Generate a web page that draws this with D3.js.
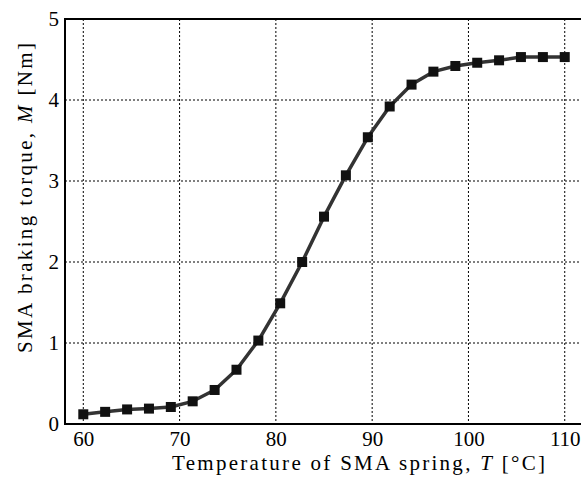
<!DOCTYPE html>
<html>
<head>
<meta charset="utf-8">
<script src="https://cdn.jsdelivr.net/npm/d3@7"></script>
<style>
  body { margin: 0; background: #fff; }
</style>
</head>
<body>
<div class="chart"></div>
<script>
// Data
var temps = [60, 62.27, 64.55, 66.82, 69.09, 71.36, 73.64, 75.91, 78.18, 80.45, 82.73, 85.0,
  87.27, 89.55, 91.82, 94.09, 96.36, 98.64, 100.91, 103.18, 105.45, 107.73, 110];
var torque = [0.12, 0.15, 0.18, 0.19, 0.21, 0.28, 0.42, 0.67, 1.03, 1.49, 2.0, 2.56,
  3.07, 3.54, 3.92, 4.19, 4.35, 4.42, 4.46, 4.49, 4.53, 4.53, 4.53];
var xTicks = [60, 70, 80, 90, 100, 110];
var yTicks = [0, 1, 2, 3, 4, 5];

var serif = "'Liberation Serif', 'DejaVu Serif', serif";

var svgWidth = 581;
var svgHeight = 484;
var margin = { top: 19, right: -3, bottom: 60, left: 65 };
var width = svgWidth - margin.left - margin.right;
var height = svgHeight - margin.top - margin.bottom;

var svg = d3.select(".chart")
  .append("svg")
  .attr("width", svgWidth)
  .attr("height", svgHeight);

var chart = svg.append("g")
  .attr("transform", "translate(" + margin.left + "," + margin.top + ")");

var xScale = d3.scaleLinear().domain([58.1, 112]).range([0, width]);
var yScale = d3.scaleLinear().domain([0, 5]).range([height, 0]);

// grid
chart.selectAll(".vgrid")
  .data(xTicks)
  .enter()
  .append("line")
  .attr("x1", function(d) { return xScale(d); })
  .attr("x2", function(d) { return xScale(d); })
  .attr("y1", 0)
  .attr("y2", height)
  .attr("stroke", "#000")
  .attr("stroke-width", 1)
  .attr("stroke-dasharray", "2,2");

chart.selectAll(".hgrid")
  .data(yTicks.filter(function(d) { return d > 0 && d < 5; }))
  .enter()
  .append("line")
  .attr("x1", 0)
  .attr("x2", width)
  .attr("y1", function(d) { return yScale(d); })
  .attr("y2", function(d) { return yScale(d); })
  .attr("stroke", "#000")
  .attr("stroke-width", 1)
  .attr("stroke-dasharray", "2,2");

// axes (labels only, no tick marks)
var bottomAxis = d3.axisBottom(xScale).tickValues(xTicks).tickSize(0).tickPadding(7)
  .tickFormat(d3.format("d"));
var leftAxis = d3.axisLeft(yScale).tickValues(yTicks).tickSize(0).tickPadding(6)
  .tickFormat(d3.format("d"));

var gx = chart.append("g")
  .attr("transform", "translate(0," + height + ")")
  .call(bottomAxis);
gx.select(".domain").remove();
gx.selectAll("text")
  .style("font-family", serif)
  .style("font-size", "21px")
  .style("fill", "#000");

var gy = chart.append("g")
  .call(leftAxis);
gy.select(".domain").remove();
gy.selectAll("text")
  .style("font-family", serif)
  .style("font-size", "21px")
  .style("fill", "#000");

// spines
chart.append("rect")
  .attr("x", 0)
  .attr("y", 0)
  .attr("width", width)
  .attr("height", height)
  .attr("fill", "none")
  .attr("stroke", "#000")
  .attr("stroke-width", 2);

// line
var points = temps.map(function(t, i) { return [t, torque[i]]; });
var line = d3.line()
  .x(function(d) { return xScale(d[0]); })
  .y(function(d) { return yScale(d[1]); });

chart.append("path")
  .datum(points)
  .attr("d", line)
  .attr("fill", "none")
  .attr("stroke", "#333")
  .attr("stroke-width", 3.5)
  .attr("stroke-linejoin", "round");

var sz = 10;
chart.selectAll(".marker")
  .data(points)
  .enter()
  .append("rect")
  .attr("x", function(d) { return xScale(d[0]) - sz / 2; })
  .attr("y", function(d) { return yScale(d[1]) - sz / 2; })
  .attr("width", sz)
  .attr("height", sz)
  .attr("fill", "#111");

// axis titles
var xl = svg.append("text")
  .attr("x", 358.5)
  .attr("y", 470)
  .attr("text-anchor", "middle")
  .attr("textLength", 373)
  .attr("lengthAdjust", "spacing")
  .style("font-family", serif)
  .style("font-size", "21px");
xl.append("tspan").text("Temperature of SMA spring, ");
xl.append("tspan").style("font-style", "italic").text("T");
xl.append("tspan").text(" [°C]");

var yl = svg.append("text")
  .attr("transform", "rotate(-90)")
  .attr("x", -198)
  .attr("y", 32)
  .attr("text-anchor", "middle")
  .attr("textLength", 310)
  .attr("lengthAdjust", "spacing")
  .style("font-family", serif)
  .style("font-size", "21px");
yl.append("tspan").text("SMA braking torque, ");
yl.append("tspan").style("font-style", "italic").text("M");
yl.append("tspan").text(" [Nm]");
</script>
</body>
</html>
